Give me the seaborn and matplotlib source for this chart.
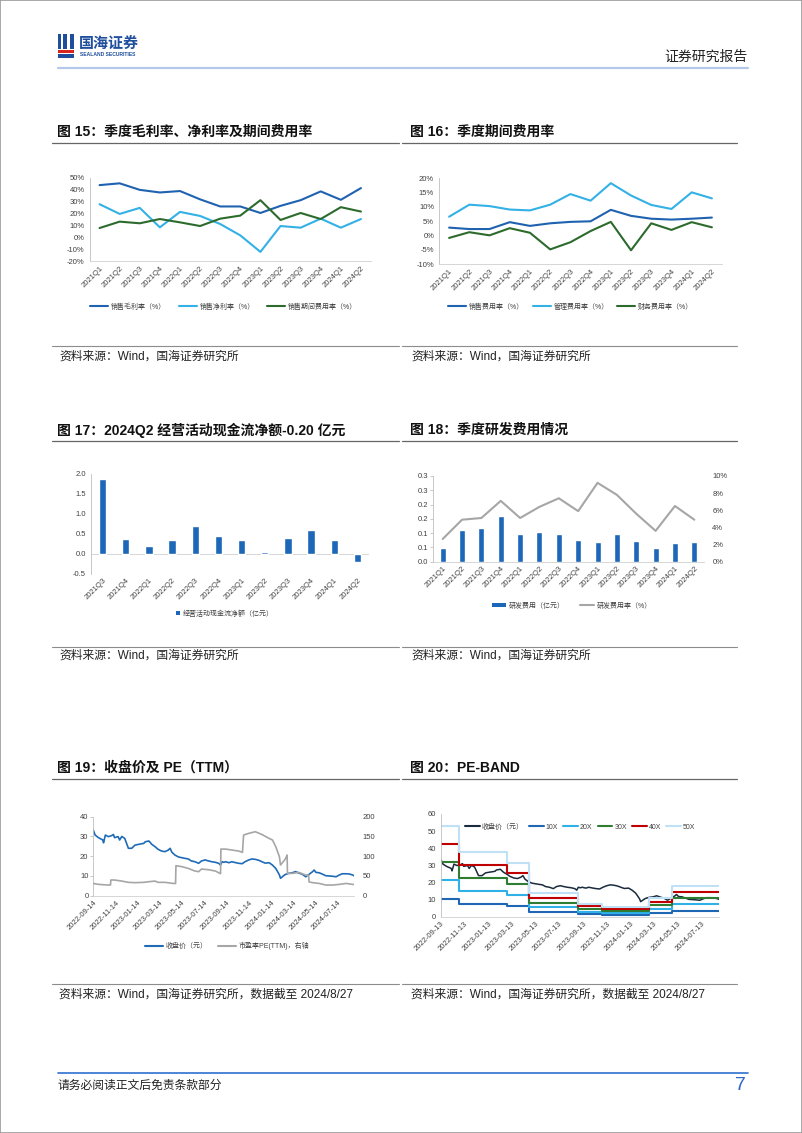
import numpy as np
import pandas as pd
import matplotlib
matplotlib.use('Agg')
import matplotlib.pyplot as plt
import seaborn as sns
from matplotlib.patches import Rectangle, Patch
from matplotlib.lines import Line2D
from matplotlib.ticker import FuncFormatter, FixedLocator

# ---------------- data ----------------
quarters14 = ['2021Q1', '2021Q2', '2021Q3', '2021Q4', '2022Q1', '2022Q2', '2022Q3',
              '2022Q4', '2023Q1', '2023Q2', '2023Q3', '2023Q4', '2024Q1', '2024Q2']
quarters12 = ['2021Q3', '2021Q4', '2022Q1', '2022Q2', '2022Q3', '2022Q4',
              '2023Q1', '2023Q2', '2023Q3', '2023Q4', '2024Q1', '2024Q2']

# Fig 15 (%)
gross_margin = [44.0, 45.5, 40.0, 37.8, 39.0, 32.0, 26.0, 26.0, 20.5, 26.5, 31.3, 38.7, 31.6, 41.5]
net_margin = [27.9, 19.7, 24.8, 8.4, 21.4, 18.0, 11.2, 1.6, -12.3, 9.5, 8.1, 15.7, 8.1, 15.4]
period_exp_ratio = [7.8, 13.2, 11.8, 15.4, 12.6, 9.5, 15.7, 18.3, 31.3, 14.6, 20.5, 15.4, 25.4, 21.7]
names15 = ['销售毛利率（%）', '销售净利率（%）', '销售期间费用率（%）']

# Fig 16 (%)
sales_exp = [2.8, 2.3, 2.3, 4.7, 3.4, 4.3, 4.8, 5.0, 9.0, 6.9, 5.9, 5.6, 5.9, 6.3]
admin_exp = [6.6, 10.8, 10.3, 9.1, 8.8, 10.8, 14.5, 12.2, 18.3, 14.0, 10.7, 9.3, 15.1, 13.0]
fin_exp = [-0.8, 1.2, 0.1, 2.6, 1.0, -4.8, -2.3, 1.6, 4.8, -5.1, 4.3, 2.0, 4.7, 2.9]
names16 = ['销售费用率（%）', '管理费用率（%）', '财务费用率（%）']

# Fig 17 (亿元)
op_cash = [1.88, 0.37, 0.20, 0.33, 0.69, 0.44, 0.34, 0.05, 0.38, 0.60, 0.35, -0.20]

# Fig 18
rd_exp = [0.047, 0.111, 0.118, 0.160, 0.096, 0.103, 0.096, 0.076, 0.068, 0.096, 0.072, 0.047, 0.064, 0.068]
rd_ratio = [2.65, 4.9, 5.1, 7.1, 5.1, 6.4, 7.4, 5.9, 9.2, 7.8, 5.6, 3.6, 6.5, 4.9]
rd_left_ticks = [0.0, 0.05, 0.10, 0.15, 0.20, 0.25, 0.30]
rd_left_labels = ['0.0', '0.1', '0.1', '0.2', '0.2', '0.3', '0.3']

# Fig 19 / 20 closing price
price_dates = ['2022-09-14', '2022-09-19', '2022-09-28', '2022-10-10', '2022-10-12', '2022-10-17',
               '2022-10-25', '2022-11-03', '2022-11-08', '2022-11-11', '2022-11-21', '2022-11-25',
               '2022-12-01', '2022-12-09', '2022-12-14', '2022-12-19', '2022-12-28', '2023-01-06',
               '2023-01-16', '2023-01-30', '2023-02-03', '2023-02-13', '2023-02-21', '2023-03-02',
               '2023-03-10', '2023-03-20', '2023-03-29', '2023-04-07', '2023-04-12', '2023-04-17',
               '2023-04-25', '2023-05-05', '2023-05-15', '2023-05-23', '2023-06-01', '2023-06-09',
               '2023-06-19', '2023-06-29', '2023-07-07', '2023-07-17', '2023-07-26', '2023-08-04',
               '2023-08-14', '2023-08-23', '2023-08-28', '2023-09-01', '2023-09-06', '2023-09-11',
               '2023-09-20', '2023-09-28', '2023-10-09', '2023-10-17', '2023-10-26', '2023-11-03',
               '2023-11-13', '2023-11-22', '2023-12-01', '2023-12-11', '2023-12-19', '2023-12-28',
               '2024-01-08', '2024-01-17', '2024-01-26', '2024-01-31', '2024-02-05', '2024-02-08',
               '2024-02-19', '2024-02-22', '2024-03-01', '2024-03-11', '2024-03-20', '2024-03-29',
               '2024-04-08', '2024-04-17', '2024-04-26', '2024-05-06', '2024-05-10', '2024-05-15',
               '2024-05-24', '2024-06-03', '2024-06-11', '2024-06-20', '2024-07-01', '2024-07-09',
               '2024-07-18', '2024-07-26', '2024-08-05', '2024-08-14', '2024-08-23', '2024-08-27']
price_vals = [33.2, 30.7, 29.4, 28.2, 26.8, 30.7, 29.9, 30.4, 31.0, 29.4, 29.9, 28.2,
              30.0, 29.0, 26.5, 24.0, 24.0, 25.6, 26.0, 26.5, 27.3, 27.7, 26.0, 24.8,
              23.5, 22.6, 22.3, 23.1, 24.0, 22.0, 20.6, 19.6, 19.2, 18.9, 18.6, 17.6,
              17.2, 16.4, 17.6, 18.1, 17.6, 17.2, 16.9, 16.4, 15.5, 17.2, 16.9, 17.2,
              16.7, 17.2, 16.7, 16.4, 16.2, 17.2, 18.1, 18.6, 18.4, 17.9, 17.2, 16.5,
              16.7, 15.5, 13.8, 12.2, 10.5, 8.8, 10.5, 10.8, 11.3, 11.6, 12.2, 11.5,
              10.8, 9.6, 10.8, 12.2, 13.0, 11.8, 11.6, 10.8, 10.1, 10.0, 9.8, 9.6,
              10.5, 11.1, 11.1, 11.0, 10.5, 10.1]

# Fig 19 PE(TTM)
pe_dates = ['2022-09-14', '2022-09-28', '2022-10-25', '2022-10-31', '2022-11-01', '2022-11-11',
            '2022-12-01', '2022-12-19', '2023-01-06', '2023-01-30', '2023-02-13', '2023-03-02',
            '2023-03-10', '2023-03-29', '2023-04-21', '2023-04-27', '2023-04-28', '2023-05-15',
            '2023-06-01', '2023-06-19', '2023-06-29', '2023-07-07', '2023-07-26', '2023-08-14',
            '2023-08-28', '2023-08-29', '2023-09-11', '2023-09-28', '2023-10-17', '2023-10-27',
            '2023-10-30', '2023-11-13', '2023-12-01', '2023-12-19', '2024-01-08', '2024-01-17',
            '2024-01-26', '2024-02-05', '2024-02-08', '2024-02-19', '2024-02-22', '2024-02-26',
            '2024-02-27', '2024-03-11', '2024-03-29', '2024-04-17', '2024-04-25', '2024-04-26',
            '2024-05-06', '2024-05-24', '2024-06-11', '2024-07-01', '2024-07-18', '2024-08-05',
            '2024-08-23', '2024-08-27']
pe_vals = [31.0, 28.7, 27.0, 27.0, 39.7, 39.7, 37.0, 33.8, 33.0, 33.8, 35.4, 37.0,
           33.8, 33.8, 31.0, 31.0, 76.0, 73.4, 69.0, 62.4, 60.8, 67.5, 65.8, 62.4,
           55.7, 118.0, 118.0, 115.6, 113.0, 109.7, 153.6, 157.8, 162.0, 155.0, 145.0, 141.0,
           124.0, 98.7, 77.6, 90.0, 94.5, 103.0, 56.5, 56.5, 59.0, 52.3, 52.0, 35.0,
           33.0, 31.0, 27.0, 27.0, 28.7, 31.0, 28.7, 28.0]
ticks19 = ['2022-09-14', '2022-11-14', '2023-01-14', '2023-03-14', '2023-05-14', '2023-07-14',
           '2023-09-14', '2023-11-14', '2024-01-14', '2024-03-14', '2024-05-14', '2024-07-14']

# Fig 20 PE-band
band_dates = ['2022-09-13', '2022-10-31', '2023-03-02', '2023-04-28', '2023-08-30',
              '2023-10-31', '2024-03-01', '2024-04-29', '2024-08-27']
band10 = [10.6, 7.6, 6.3, 2.7, 1.5, 1.2, 2.2, 3.6, 3.6]
band20 = [21.2, 15.2, 12.6, 5.5, 3.0, 2.3, 4.4, 7.3, 7.3]
band30 = [31.8, 22.7, 19.0, 8.2, 4.5, 3.5, 6.6, 10.9, 10.9]
band40 = [42.4, 30.3, 25.3, 11.0, 6.0, 4.7, 8.8, 14.6, 14.6]
band50 = [53.0, 37.9, 31.6, 13.7, 7.5, 5.9, 11.0, 18.2, 18.2]
band_names = ['10X', '20X', '30X', '40X', '50X']
ticks20 = ['2022-09-13', '2022-11-13', '2023-01-13', '2023-03-13', '2023-05-13', '2023-07-13',
           '2023-09-13', '2023-11-13', '2024-01-13', '2024-03-13', '2024-05-13', '2024-07-13']

# ---------------- style ----------------
sns.set_theme(style='white')
plt.rcParams['font.family'] = ['Liberation Sans', 'Noto Sans CJK SC', 'DejaVu Sans']
plt.rcParams['axes.unicode_minus'] = False

DBLUE = '#1f62b0'
LBLUE = '#33b1e6'
DGREEN = '#2d6b2d'
GRAY = '#a6a6a6'
TXT = '#404040'

W, H = 802, 1133
fig = plt.figure(figsize=(W / 100, H / 100), dpi=100)
fig.patch.set_facecolor('white')


def fx(x):
    return x / W


def fy(y):
    return 1 - y / H


def add_ax(x0, x1, ytop, ybot):
    return fig.add_axes([x0 / W, 1 - ybot / H, (x1 - x0) / W, (ybot - ytop) / H])


def style(ax, bottom=True):
    ax.set_facecolor('none')
    for s in ['top', 'right']:
        ax.spines[s].set_visible(False)
    ax.spines['left'].set_color('#bfbfbf')
    ax.spines['left'].set_linewidth(0.6)
    ax.spines['bottom'].set_color('#d0d0d0')
    ax.spines['bottom'].set_linewidth(0.6)
    ax.spines['bottom'].set_visible(bottom)
    ax.tick_params(axis='x', labelsize=5.5, colors=TXT, length=0, pad=2.5)
    ax.tick_params(axis='y', labelsize=5.5, labelcolor=TXT, length=2, color='#bfbfbf', width=0.6, pad=1.5)
    ax.set_xlabel('')
    ax.set_ylabel('')
    ax.grid(False)


def rotate(ax):
    for lab in ax.get_xticklabels():
        lab.set_rotation(45)
        lab.set_ha('right')
        lab.set_va('top')
        lab.set_rotation_mode('anchor')


pct = FuncFormatter(lambda v, p: f'{v:.0f}%')

# ---------------- page furniture ----------------
fig.patches.append(Rectangle((0, 0), 1, 1, transform=fig.transFigure, fill=False,
                             edgecolor='#9a9a9a', lw=1.2))
# logo
LOGO = '#1f4e9c'
for (x0, y0, w, h, c) in [(57.5, 34, 4, 15, LOGO), (63.5, 34, 4, 15, LOGO),
                          (69.5, 34, 4, 15, LOGO), (57.5, 50, 16, 3, '#d9261c'),
                          (57.5, 54, 16, 3.5, LOGO)]:
    fig.patches.append(Rectangle((fx(x0), fy(y0 + h)), w / W, h / H, transform=fig.transFigure,
                                 facecolor=c, edgecolor='none'))
fig.text(fx(79), fy(43.5), '国海证券', fontsize=10.8, fontweight='bold', color=LOGO,
         ha='left', va='center')
fig.text(fx(79.5), fy(55), 'SEALAND SECURITIES', fontsize=3.6, fontweight='bold', color=LOGO,
         ha='left', va='center')
fig.text(fx(748), fy(56.5), '证券研究报告', fontsize=10, color='#222222', ha='right', va='center')
fig.add_artist(Line2D([fx(57.5), fx(748)], [fy(67.5), fy(67.5)], color='#b4c8ea', lw=1.6))
# footer
fig.add_artist(Line2D([fx(57.5), fx(748)], [fy(1073.3), fy(1073.3)], color='#2f6fd0', lw=1.2))
fig.text(fx(57.5), fy(1085.5), '请务必阅读正文后免责条款部分', fontsize=8.5, color='#222222',
         ha='left', va='center')
fig.text(fx(746), fy(1085), '7', fontsize=14, color='#2f64c8', ha='right', va='center')

# titles / sources
titles = [(57, 131.7, '图 15：季度毛利率、净利率及期间费用率'),
          (410, 131.7, '图 16：季度期间费用率'),
          (57, 430, '图 17：2024Q2 经营活动现金流净额-0.20 亿元'),
          (410, 430, '图 18：季度研发费用情况'),
          (57, 768, '图 19：收盘价及 PE（TTM）'),
          (410, 768, '图 20：PE-BAND')]
for x, y, t in titles:
    fig.text(fx(x), fy(y), t, fontsize=10, fontweight='bold', color='#111111', ha='left', va='center')
for yl in [143.3, 440.7, 778.5]:
    fig.add_artist(Line2D([fx(52), fx(399)], [fy(yl), fy(yl)], color='#666666', lw=0.9))
    fig.add_artist(Line2D([fx(402), fx(737)], [fy(yl), fy(yl)], color='#666666', lw=0.9))
sources = [(357, '资料来源：Wind，国海证券研究所'), (656, '资料来源：Wind，国海证券研究所'),
           (995, '资料来源：Wind，国海证券研究所，数据截至 2024/8/27')]
for yl in [345.7, 646.5, 984]:
    fig.add_artist(Line2D([fx(52), fx(399)], [fy(yl), fy(yl)], color='#8c8c8c', lw=0.8))
    fig.add_artist(Line2D([fx(402), fx(737)], [fy(yl), fy(yl)], color='#8c8c8c', lw=0.8))
for ys, t in sources:
    fig.text(fx(59), fy(ys), t, fontsize=8.5, color='#222222', ha='left', va='center')
    fig.text(fx(411), fy(ys), t, fontsize=8.5, color='#222222', ha='left', va='center')

leg_kw = dict(frameon=False, fontsize=5, handletextpad=0.4, labelcolor=TXT)

# ---------------- Fig 15 ----------------
ax = add_ax(89.5, 371, 178, 261)
df15 = pd.DataFrame({'季度': quarters14 * 3,
                     '值': gross_margin + net_margin + period_exp_ratio,
                     '指标': [names15[0]] * 14 + [names15[1]] * 14 + [names15[2]] * 14})
sns.lineplot(data=df15, x='季度', y='值', hue='指标', hue_order=names15,
             palette=[DBLUE, LBLUE, DGREEN], sort=False, linewidth=1.5, legend=False, ax=ax)
ax.set_xlim(-0.5, 13.5)
ax.set_ylim(-20, 50)
ax.set_yticks(range(-20, 51, 10))
ax.yaxis.set_major_formatter(pct)
style(ax)
rotate(ax)
fig.legend([Line2D([], [], color=c, lw=1.5) for c in [DBLUE, LBLUE, DGREEN]], names15,
           loc='center left', bbox_to_anchor=(fx(84), fy(307)), ncol=3, handlelength=2.6,
           columnspacing=1.8, **leg_kw)

# ---------------- Fig 16 ----------------
ax = add_ax(439, 722, 178.3, 264.3)
df16 = pd.DataFrame({'季度': quarters14 * 3,
                     '值': sales_exp + admin_exp + fin_exp,
                     '指标': [names16[0]] * 14 + [names16[1]] * 14 + [names16[2]] * 14})
sns.lineplot(data=df16, x='季度', y='值', hue='指标', hue_order=names16,
             palette=[DBLUE, LBLUE, DGREEN], sort=False, linewidth=1.5, legend=False, ax=ax)
ax.set_xlim(-0.5, 13.5)
ax.set_ylim(-10, 20)
ax.set_yticks(range(-10, 21, 5))
ax.yaxis.set_major_formatter(pct)
style(ax)
rotate(ax)
fig.legend([Line2D([], [], color=c, lw=1.5) for c in [DBLUE, LBLUE, DGREEN]], names16,
           loc='center left', bbox_to_anchor=(fx(442), fy(307)), ncol=3, handlelength=2.6,
           columnspacing=1.2, **leg_kw)

# ---------------- Fig 17 ----------------
ax = add_ax(91, 369, 474, 573.5)
sns.barplot(x=quarters12, y=op_cash, color='#1c67b8', saturation=1, width=0.32, ax=ax)
ax.set_xlim(-0.5, 11.5)
ax.set_ylim(-0.5, 2.0)
ax.set_yticks([-0.5, 0.0, 0.5, 1.0, 1.5, 2.0])
ax.yaxis.set_major_formatter(FuncFormatter(lambda v, p: f'{v:.1f}'))
style(ax, bottom=False)
ax.axhline(0, color='#d0d0d0', lw=0.6, zorder=0)
rotate(ax)
fig.legend([Patch(facecolor='#1c67b8', edgecolor='none')], ['经营活动现金流净额（亿元）'],
           loc='center', bbox_to_anchor=(fx(225), fy(614)), handlelength=0.6, handleheight=0.6,
           **leg_kw)

# ---------------- Fig 18 ----------------
ax = add_ax(433, 704, 476, 561.7)
sns.barplot(x=quarters14, y=rd_exp, color='#1c67b8', saturation=1, width=0.31, ax=ax)
ax.set_xlim(-0.5, 13.5)
ax.set_ylim(0, 0.3)
ax.yaxis.set_major_locator(FixedLocator(rd_left_ticks))
ax.set_yticklabels(rd_left_labels)
style(ax)
rotate(ax)
ax2 = ax.twinx()
sns.lineplot(x=quarters14, y=rd_ratio, color=GRAY, linewidth=1.5, sort=False, ax=ax2)
ax2.set_ylim(0, 10)
ax2.set_yticks(range(0, 11, 2))
ax2.yaxis.set_major_formatter(pct)
ax2.set_xlim(-0.5, 13.5)
for s in ['top', 'right', 'left', 'bottom']:
    ax2.spines[s].set_visible(False)
ax2.tick_params(axis='y', labelsize=5.5, labelcolor=TXT, length=0, pad=6)
ax2.set_ylabel('')
ax2.grid(False)
fig.legend([Patch(facecolor='#1c67b8', edgecolor='none'), Line2D([], [], color=GRAY, lw=1.5)],
           ['研发费用（亿元）', '研发费用率（%）'], loc='center', bbox_to_anchor=(fx(572), fy(606)),
           ncol=2, handlelength=2.0, handleheight=0.5, columnspacing=2.3, **leg_kw)

# ---------------- Fig 19 ----------------
ax = add_ax(93.3, 354, 816.7, 895.7)
pdates = pd.to_datetime(price_dates)
sns.lineplot(x=pdates, y=price_vals, color='#1f6bb8', linewidth=1.2, ax=ax)
ax.set_xlim(pd.Timestamp('2022-09-14'), pd.Timestamp('2024-08-27'))
ax.set_ylim(0, 40)
ax.set_yticks(range(0, 41, 10))
ax.set_xticks(pd.to_datetime(ticks19))
ax.set_xticklabels(ticks19)
style(ax)
rotate(ax)
ax2 = ax.twinx()
sns.lineplot(x=pd.to_datetime(pe_dates), y=pe_vals, color=GRAY, linewidth=1.2, ax=ax2)
ax2.set_xlim(pd.Timestamp('2022-09-14'), pd.Timestamp('2024-08-27'))
ax2.set_ylim(0, 200)
ax2.set_yticks(range(0, 201, 50))
for s in ['top', 'right', 'left', 'bottom']:
    ax2.spines[s].set_visible(False)
ax2.tick_params(axis='y', labelsize=5.5, labelcolor=TXT, length=0, pad=6)
ax2.set_ylabel('')
ax2.grid(False)
fig.legend([Line2D([], [], color='#1f6bb8', lw=1.5), Line2D([], [], color=GRAY, lw=1.5)],
           ['收盘价（元）', '市盈率PE(TTM)，右轴'], loc='center left', bbox_to_anchor=(fx(139), fy(946)),
           ncol=2, handlelength=2.6, columnspacing=1.4, **leg_kw)

# ---------------- Fig 20 ----------------
ax = add_ax(440.7, 719, 814, 916.7)
sns.lineplot(x=pdates, y=price_vals, color='#1a2b3d', linewidth=1.1, ax=ax)
bdates = pd.to_datetime(band_dates)
band_colors = ['#1f67b5', '#2fb0e6', '#2e7d32', '#c00000', '#bfe0f5']
for vals, c in zip([band10, band20, band30, band40, band50], band_colors):
    sns.lineplot(x=bdates, y=vals, color=c, linewidth=1.5, drawstyle='steps-post', ax=ax)
ax.set_xlim(pd.Timestamp('2022-09-13'), pd.Timestamp('2024-08-27'))
ax.set_ylim(0, 60)
ax.set_yticks(range(0, 61, 10))
ax.set_xticks(pd.to_datetime(ticks20))
ax.set_xticklabels(ticks20)
style(ax)
rotate(ax)
fig.legend([Line2D([], [], color=c, lw=1.5) for c in ['#1a2b3d'] + band_colors],
           ['收盘价（元）'] + band_names, loc='center left', bbox_to_anchor=(fx(459), fy(827)),
           ncol=6, handlelength=2.1, handletextpad=0.3, columnspacing=0.75,
           frameon=False, fontsize=5, labelcolor=TXT)

fig.savefig('out.png', dpi=100, facecolor='white')
